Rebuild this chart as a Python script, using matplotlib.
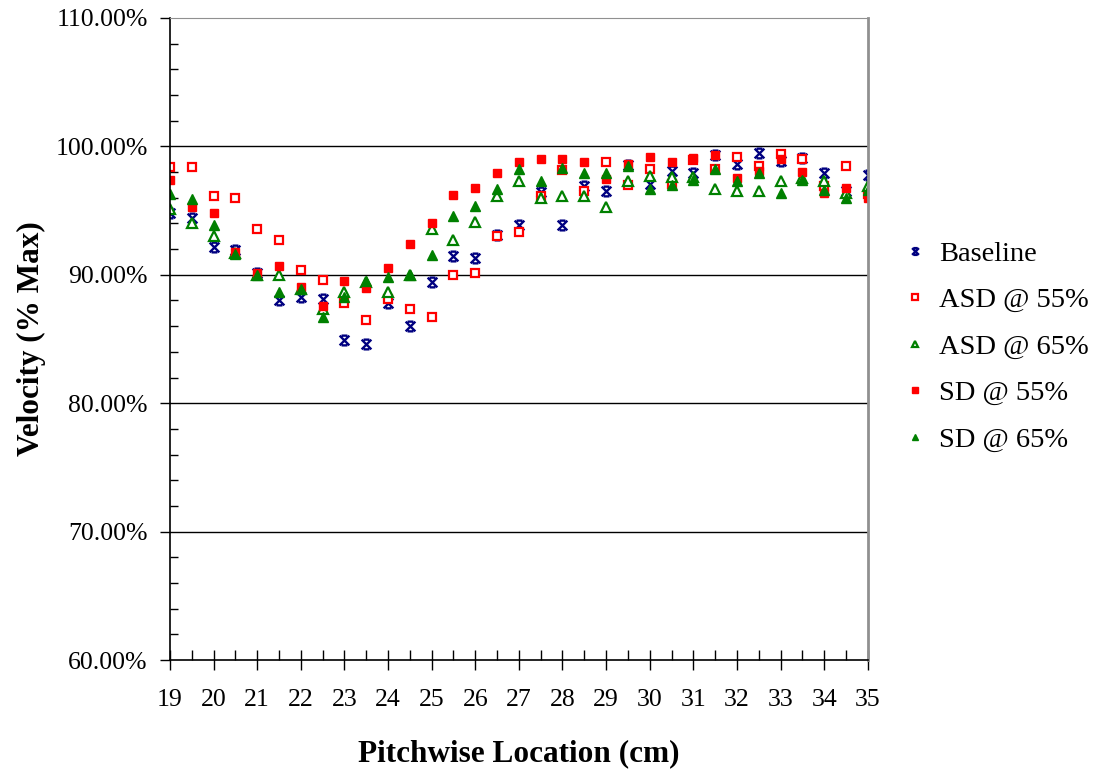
import matplotlib.pyplot as plt
import numpy as np
from matplotlib.path import Path
from matplotlib.ticker import MultipleLocator, FuncFormatter

plt.rcParams['font.family'] = ['Liberation Serif', 'DejaVu Serif']

# pitchwise positions (cm)
location = [19, 19.5, 20, 20.5, 21, 21.5, 22, 22.5, 23, 23.5, 24, 24.5, 25, 25.5,
            26, 26.5, 27, 27.5, 28, 28.5, 29, 29.5, 30, 30.5, 31, 31.5, 32, 32.5,
            33, 33.5, 34, 34.5, 35]

# velocity, % of max
baseline = [94.8, 94.4, 92.2, 91.9, 90.15, 88.05, 88.25, 88.1, 84.95, 84.6, 87.8, 86.0,
            89.4, 91.45, 91.3, 93.1, 93.9, 96.45, 93.9, 96.95, 96.55, 98.55, 97.05,
            98.1, 97.9, 99.35, 98.6, 99.5, 98.85, 99.1, 97.95, 96.55, 97.8]
asd_55 = [98.4, 98.4, 96.1, 96.0, 93.6, 92.7, 90.4, 89.6, 87.8, 86.5, 88.1, 87.3,
          86.7, 90.0, 90.1, 93.05, 93.3, 96.1, 98.15, 96.5, 98.8, 97.0, 98.25,
          97.1, 98.9, 98.2, 99.2, 98.45, 99.4, 99.05, 96.95, 98.5, 96.3]
asd_65 = [95.15, 94.0, 93.0, 91.7, 90.0, 90.0, 88.9, 87.3, 88.65, 89.4, 88.65, 90.0,
          93.6, 92.7, 94.1, 96.1, 97.3, 96.0, 96.1, 96.1, 95.25, 97.3, 97.7,
          97.6, 97.6, 96.65, 96.5, 96.5, 97.3, 97.5, 97.3, 96.4, 96.95]
sd_55 = [97.35, 95.3, 94.8, 91.8, 90.15, 90.65, 89.05, 87.6, 89.5, 89.0, 90.5, 92.4,
         94.05, 96.2, 96.75, 97.9, 98.8, 99.05, 99.05, 98.8, 97.45, 98.65, 99.2,
         98.8, 99.1, 99.3, 97.5, 98.1, 99.05, 98.0, 96.4, 96.75, 96.0]
sd_65 = [96.3, 95.9, 93.85, 91.65, 89.95, 88.65, 88.9, 86.7, 88.25, 89.5, 89.8, 90.0,
         91.55, 94.6, 95.35, 96.65, 98.2, 97.3, 98.3, 97.9, 97.9, 98.45, 96.7,
         97.0, 97.35, 98.2, 97.3, 97.95, 96.4, 97.4, 96.6, 96.0, 96.6]

# X with caps, like the spreadsheet "star" marker
star = Path([(-1, -1), (1, 1), (-1, 1), (1, -1), (-0.6, 1), (0.6, 1), (-0.6, -1), (0.6, -1)],
            [Path.MOVETO, Path.LINETO] * 4)

fig = plt.figure(figsize=(11.04, 7.69), dpi=100)
ax = fig.add_axes([0.154, 0.1417, 0.632, 0.835])

ax.plot(location, baseline, ls='none', marker=star, ms=7, mew=1.7, color='#000080', label='Baseline')
ax.plot(location, asd_55, ls='none', marker='s', ms=5.5, mew=1.6, mfc='white', mec='red', label='ASD @ 55%')
ax.plot(location, asd_65, ls='none', marker='^', ms=6.5, mew=1.6, mfc='white', mec='green', label='ASD @ 65%')
ax.plot(location, sd_55, ls='none', marker='s', ms=6, color='red', label='SD @ 55%')
ax.plot(location, sd_65, ls='none', marker='^', ms=7, color='green', label='SD @ 65%')

ax.set_xlim(19, 35)
ax.set_ylim(60, 110)
ax.xaxis.set_major_locator(MultipleLocator(1))
ax.xaxis.set_minor_locator(MultipleLocator(0.5))
ax.yaxis.set_major_locator(MultipleLocator(10))
ax.yaxis.set_minor_locator(MultipleLocator(2))
ax.yaxis.set_major_formatter(FuncFormatter(lambda v, p: '%.2f%%' % v))
ax.tick_params(axis='both', which='major', labelsize=18.5, colors='black')
ax.tick_params(axis='y', which='major', direction='out', length=7, width=1, pad=9)
ax.tick_params(axis='y', which='minor', direction='in', length=6, width=1)
ax.tick_params(axis='x', which='major', direction='inout', length=14, width=1, pad=14)
ax.tick_params(axis='x', which='minor', direction='in', length=7, width=1)

for v in [70, 80, 90, 100]:
    ax.axhline(v, color='black', lw=1, zorder=0)

ax.spines['top'].set_color('#909090')
ax.spines['right'].set_color('#909090')
ax.spines['right'].set_linewidth(2)
ax.spines['left'].set_linewidth(1.2)
ax.spines['bottom'].set_linewidth(1.2)

ax.set_xlabel('Pitchwise Location (cm)', fontsize=22.5, fontweight='bold', labelpad=20)
ax.set_ylabel('Velocity (% Max)', fontsize=22.5, fontweight='bold', labelpad=7)

fig.legend(loc='center left', bbox_to_anchor=(0.821, 0.549), frameon=False, fontsize=20.5,
           markerscale=0.7, handlelength=0.6, handletextpad=0.55, labelspacing=0.72,
           borderpad=0, borderaxespad=0)

fig.savefig('out.png', dpi=100)
